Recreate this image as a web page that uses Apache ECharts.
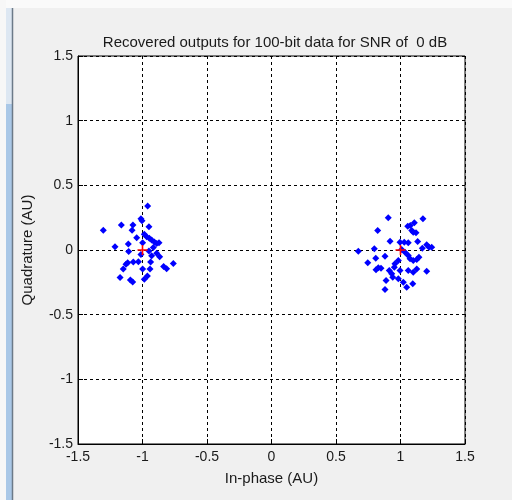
<!DOCTYPE html>
<html>
<head>
<meta charset="utf-8">
<script src="https://cdn.jsdelivr.net/npm/echarts@6/dist/echarts.min.js"></script>
<style>
  html, body { margin: 0; padding: 0; background: #f0f0f0; }
  #chart { width: 512px; height: 500px; }
</style>
</head>
<body>
<div id="chart"></div>
<script>
// Received BPSK symbols (in-phase / quadrature), SNR = 0 dB
const inPhase = [
  -0.960, -1.304, -1.164, -1.074, -1.081, -1.012, -1.004, -0.950, -1.213, -1.110,
  -1.045, -0.986, -0.968, -0.947, -0.929, -0.908, -0.890, -0.872, -1.107, -0.999,
  -0.950, -0.929, -0.890, -0.867, -0.916, -1.032, -1.115, -1.128, -1.149, -0.937,
  -0.999, -0.942, -0.836, -0.813, -0.761, -1.174, -1.094, -1.076, -0.986, -0.962,
  -1.012, -1.071,
  0.905, 1.174, 0.823, 1.056, 1.076, 1.107, 1.087, 1.099, 1.120, 0.919,
  1.203, 1.221, 1.242, 0.996, 1.029, 1.060, 0.673, 0.797, 0.880, 0.808,
  0.746, 1.035, 1.060, 1.074, 1.099, 1.126, 1.143, 0.828, 0.810, 0.849,
  0.913, 0.932, 0.952, 0.957, 1.060, 1.099, 1.203, 0.983, 0.888, 1.022,
  1.048, 1.095, 0.880, 0.996, 0.983, 1.169, 1.009, 1.126, 1.133, 0.940
];
const quadrature = [
  0.340, 0.152, 0.193, 0.193, 0.152, 0.242, 0.227, 0.180, 0.025, 0.046,
  0.095, 0.121, 0.103, 0.090, 0.077, 0.061, 0.051, 0.056, -0.011, 0.056,
  -0.008, -0.044, -0.026, -0.052, 0.020, -0.090, -0.098, -0.111, -0.147, -0.093,
  -0.147, -0.147, -0.127, -0.145, -0.104, -0.212, -0.232, -0.248, -0.227, -0.201,
  -0.034, -0.093,
  0.249, 0.241, 0.151, 0.184, 0.189, 0.210, 0.151, 0.138, 0.133, 0.068,
  0.040, 0.022, 0.022, 0.060, 0.060, 0.056, -0.009, 0.009, -0.048, -0.063,
  -0.099, -0.017, -0.043, -0.068, -0.081, -0.073, -0.056, -0.138, -0.153, -0.141,
  -0.159, -0.184, -0.133, -0.107, -0.159, -0.172, -0.164, -0.223, -0.236, -0.249,
  -0.288, -0.261, -0.305, -0.159, -0.081, 0.014, 0.004, -0.146, 0.066, -0.210
];

// Ideal constellation points
const refInPhase = [-1, 1];
const refQuadrature = [0, 0];

const titleText = 'Recovered outputs for 100-bit data for SNR of  0 dB';
const xName = 'In-phase (AU)';
const yName = 'Quadrature (AU)';

const received = inPhase.map((v, i) => [v, quadrature[i]]);
const ideal = refInPhase.map((v, i) => [v, refQuadrature[i]]);

const font = 'Liberation Sans, Arial, sans-serif';
const txt = '#1a1a1a';

const gridLine = {
  show: true,
  lineStyle: { color: '#000', width: 1, type: [3, 3] }
};

function tickFmt(v) {
  return String(Math.round(v * 10) / 10);
}

const chart = echarts.init(document.getElementById('chart'), null, { renderer: 'canvas' });

chart.setOption({
  backgroundColor: '#f0f0f0',
  animation: false,
  title: {
    text: titleText,
    left: 270,
    top: 30,
    textAlign: 'center',
    textStyle: { fontFamily: font, fontSize: 15, fontWeight: 'normal', color: txt }
  },
  graphic: [
    { type: 'rect', shape: { x: 0, y: 0, width: 512, height: 8 }, style: { fill: '#fafafa' }, z: -10 },
    { type: 'rect', shape: { x: 0, y: 0, width: 6, height: 500 }, style: { fill: '#f7f7f7' }, z: -10 },
    { type: 'rect', shape: { x: 6, y: 8, width: 6, height: 96 }, style: { fill: '#dde7f2' }, z: -9 },
    { type: 'rect', shape: { x: 6, y: 104, width: 6, height: 396 }, style: { fill: '#aac8e7' }, z: -9 },
    { type: 'line', shape: { x1: 12.5, y1: 8, x2: 12.5, y2: 500 }, style: { stroke: '#6c7a88', lineWidth: 1.5 }, z: -8 }
  ],
  grid: {
    left: 78, right: 47, top: 56, bottom: 56,
    show: true,
    backgroundColor: '#fff',
    borderColor: '#000',
    borderWidth: 1
  },
  xAxis: {
    type: 'value',
    min: -1.5, max: 1.5, interval: 0.5,
    name: xName,
    nameLocation: 'middle',
    nameGap: 27,
    nameTextStyle: { fontFamily: font, fontSize: 15, color: txt },
    axisLine: { show: true, onZero: false, lineStyle: { color: '#000' } },
    axisTick: { show: true, inside: true, length: 5, lineStyle: { color: '#000' } },
    axisLabel: { fontFamily: font, fontSize: 14, color: txt, margin: 6, formatter: tickFmt, showMinLabel: true, showMaxLabel: true },
    splitLine: gridLine
  },
  yAxis: {
    type: 'value',
    min: -1.5, max: 1.5, interval: 0.5,
    name: yName,
    nameLocation: 'middle',
    nameGap: 43,
    nameRotate: 90,
    nameTextStyle: { fontFamily: font, fontSize: 15, color: txt },
    axisLine: { show: true, onZero: false, lineStyle: { color: '#000' } },
    axisTick: { show: true, inside: true, length: 5, lineStyle: { color: '#000' } },
    axisLabel: { fontFamily: font, fontSize: 14, color: txt, margin: 5, formatter: tickFmt, showMinLabel: true, showMaxLabel: true },
    splitLine: gridLine
  },
  series: [
    {
      name: 'received',
      type: 'scatter',
      data: received,
      symbol: 'diamond',
      symbolSize: [7, 7],
      itemStyle: { color: '#0000ff', opacity: 1 },
      z: 3
    },
    {
      name: 'ideal',
      type: 'scatter',
      data: ideal,
      symbol: 'path://M4.2,0H5.8V4.2H10V5.8H5.8V10H4.2V5.8H0V4.2H4.2Z',
      symbolSize: 10,
      itemStyle: { color: '#ff0000', opacity: 1 },
      z: 4
    }
  ]
});
</script>
</body>
</html>
